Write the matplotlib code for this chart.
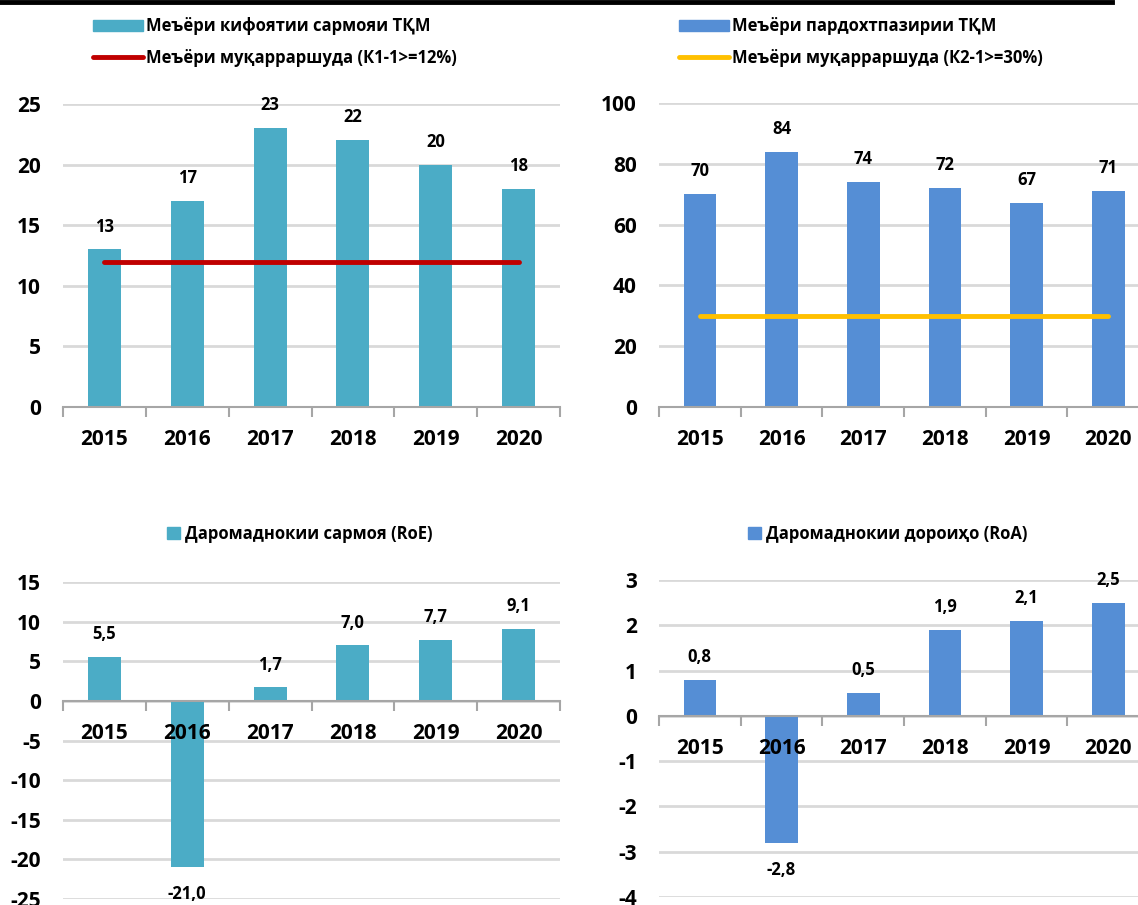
import matplotlib
matplotlib.use("Agg")
import matplotlib.pyplot as plt
from matplotlib.patches import Patch
from matplotlib.lines import Line2D
import numpy as np

plt.rcParams['font.family'] = ['Open Sans', 'Noto Sans', 'DejaVu Sans']
plt.rcParams['font.weight'] = 'bold'

years = ['2015', '2016', '2017', '2018', '2019', '2020']

# capital adequacy ratio and its norm
car = [13, 17, 23, 22, 20, 18]
car_norm = 12
# liquidity ratio and its norm
liq = [70, 84, 74, 72, 67, 71]
liq_norm = 30
# return on equity / assets
roe = [5.5, -21.0, 1.7, 7.0, 7.7, 9.1]
roa = [0.8, -2.8, 0.5, 1.9, 2.1, 2.5]

teal = '#4BACC6'
blue = '#558ED5'
red = '#C00000'
yellow = '#FFC000'
grid_c = '#D9D9D9'

W, H = 1138, 905
fig = plt.figure(figsize=(W / 100, H / 100), dpi=100)


def make_ax(left, right, top, bottom):
    return fig.add_axes([left / W, 1 - bottom / H, (right - left) / W, (bottom - top) / H])


def style(ax, yticks, ylim):
    x = np.arange(len(years))
    ax.set_xlim(-0.5, len(years) - 0.5)
    ax.set_ylim(*ylim)
    ax.set_yticks(yticks)
    ax.set_yticklabels([str(t) for t in yticks])
    ax.grid(axis='y', color=grid_c, linewidth=2)
    ax.set_axisbelow(True)
    # year labels sit on top of the bars (2016 overlaps the negative bar)
    ax.xaxis.set_zorder(3)
    for s in ['top', 'right', 'left']:
        ax.spines[s].set_visible(False)
    ax.spines['bottom'].set_position(('data', 0))
    ax.spines['bottom'].set_color('#A6A6A6')
    ax.spines['bottom'].set_linewidth(1.5)
    ax.set_xticks(x)
    ax.set_xticklabels(years)
    ax.set_xticks(np.arange(len(years) + 1) - 0.5, minor=True)
    ax.tick_params(axis='x', which='major', length=0, pad=16, labelsize=15)
    ax.tick_params(axis='x', which='minor', length=7, width=1.5, color='#A6A6A6')
    ax.tick_params(axis='y', length=0, pad=16, labelsize=15)
    return x


def labels(ax, x, vals, fmt):
    for xi, v in zip(x, vals):
        if v >= 0:
            ax.annotate(fmt(v), (xi, v), xytext=(0, 10), textcoords='offset points',
                        ha='center', va='bottom', fontsize=12, fontweight='bold')
        else:
            ax.annotate(fmt(v), (xi, v), xytext=(0, -13), textcoords='offset points',
                        ha='center', va='top', fontsize=12, fontweight='bold')


comma = lambda v: f'{v:.1f}'.replace('.', ',')
whole = lambda v: f'{v:.0f}'

# top left
ax1 = make_ax(63, 560, 104, 407)
x = style(ax1, [0, 5, 10, 15, 20, 25], (0, 25))
ax1.bar(x, car, width=0.4, color=teal)
ax1.plot([x[0], x[-1]], [car_norm, car_norm], color=red, linewidth=3.5, solid_capstyle='round')
labels(ax1, x, car, whole)

# top right
ax2 = make_ax(659, 1149, 103, 407)
x = style(ax2, [0, 20, 40, 60, 80, 100], (0, 100))
ax2.bar(x, liq, width=0.4, color=blue)
ax2.plot([x[0], x[-1]], [liq_norm, liq_norm], color=yellow, linewidth=3.5, solid_capstyle='round')
labels(ax2, x, liq, whole)

# bottom left
ax3 = make_ax(63, 560, 582, 899)
x = style(ax3, [15, 10, 5, 0, -5, -10, -15, -20, -25], (-25, 15))
ax3.bar(x, roe, width=0.4, color=teal)
labels(ax3, x, roe, comma)

# bottom right
ax4 = make_ax(659, 1149, 580, 897)
x = style(ax4, [3, 2, 1, 0, -1, -2, -3, -4], (-4, 3))
ax4.bar(x, roa, width=0.4, color=blue)
labels(ax4, x, roa, comma)

leg_kw = dict(loc='center', frameon=False, prop={'size': 12, 'weight': 'bold'},
              handlelength=3.0, handletextpad=0.2, labelspacing=0.8, borderaxespad=0)

fig.legend([Patch(color=teal), Line2D([0], [0], color=red, linewidth=3.5, solid_capstyle='round')],
           ['Меъёри кифоятии сармояи ТҚМ', 'Меъёри муқарраршуда (К1-1>=12%)'],
           bbox_to_anchor=(275 / W, 1 - 42 / H), **leg_kw)
fig.legend([Patch(color=blue), Line2D([0], [0], color=yellow, linewidth=3.5, solid_capstyle='round')],
           ['Меъёри пардохтпазирии ТҚМ', 'Меъёри муқарраршуда (К2-1>=30%)'],
           bbox_to_anchor=(861 / W, 1 - 42 / H), **leg_kw)
fig.legend([Patch(color=teal)], ['Даромаднокии сармоя (RoE)'],
           bbox_to_anchor=(300 / W, 1 - 534 / H), **dict(leg_kw, handlelength=0.8, handletextpad=0.3))
fig.legend([Patch(color=blue)], ['Даромаднокии дороиҳо (RoA)'],
           bbox_to_anchor=(888 / W, 1 - 534 / H), **dict(leg_kw, handlelength=0.8, handletextpad=0.3))

# heavy rule along the top edge
fig.add_artist(Line2D([0, 1112 / W], [1 - 2 / H, 1 - 2 / H], color='black', linewidth=3.5))

fig.savefig('out.png', dpi=100)
